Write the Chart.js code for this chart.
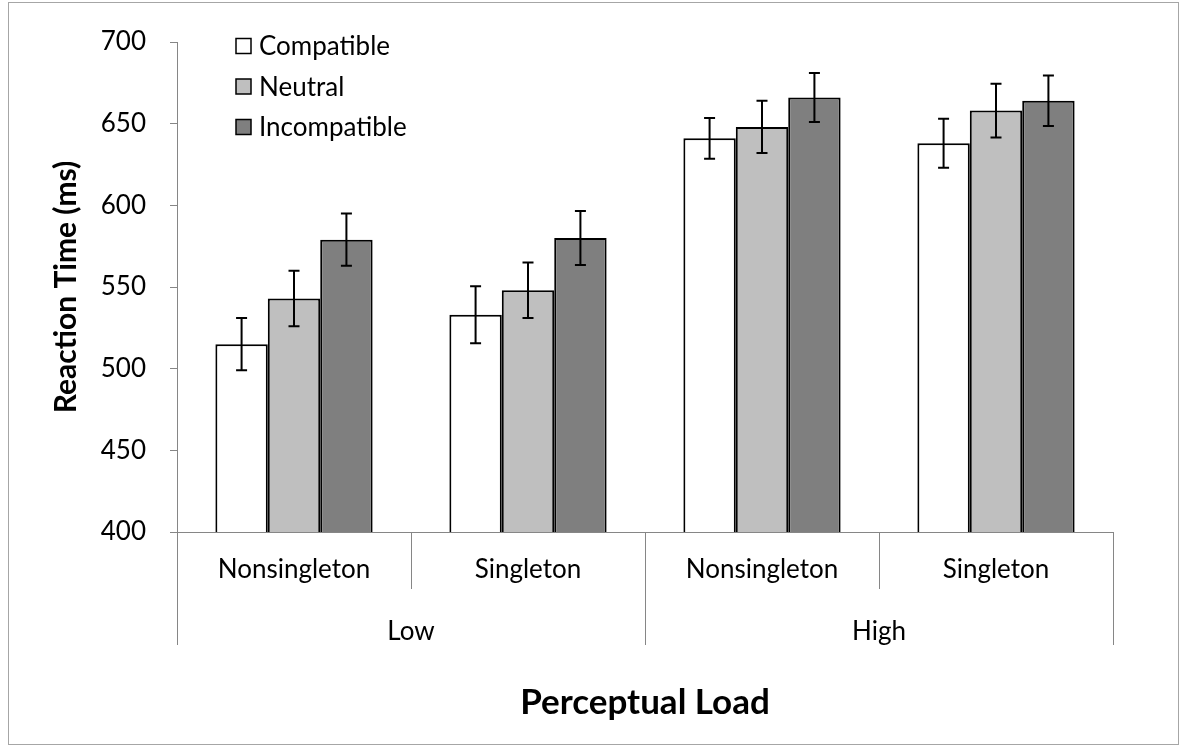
<!DOCTYPE html>
<html>
<head>
<meta charset="utf-8">
<script src="https://cdn.jsdelivr.net/npm/chart.js@4/dist/chart.umd.min.js"></script>
<style>
  body { margin: 0; background: #fff; }
  #wrap { position: relative; width: 1188px; height: 746px; }
</style>
</head>
<body>
<div id="wrap"><canvas id="grafico" width="1188" height="746"></canvas></div>
<script>
// dados do grafico
const condicoes = ["Nonsingleton", "Singleton", "Nonsingleton", "Singleton"];
const cargas = ["Low", "High"];
const compatible = [515, 533, 641, 638];
const neutral = [543, 548, 648, 658];
const incompatible = [579, 580, 666, 664];
const erroCompatible = [16, 17.5, 12.5, 15];
const erroNeutral = [17, 17, 16, 16.5];
const erroIncompatible = [16, 16.5, 15, 15.5];
const yTicks = [400, 450, 500, 550, 600, 650, 700];

const FONTE = "Lato, 'Open Sans', sans-serif";
const CINZA = "#868686";

// barras de erro
const errorBars = {
  id: "errorBars",
  afterDatasetsDraw(chart) {
    const ctx = chart.ctx;
    const y = chart.scales.y;
    chart.data.datasets.forEach((ds, i) => {
      const meta = chart.getDatasetMeta(i);
      meta.data.forEach((bar, j) => {
        const v = ds.data[j], e = ds.erros[j];
        const topo = y.getPixelForValue(v + e);
        const base = y.getPixelForValue(v - e);
        ctx.save();
        ctx.strokeStyle = "#000";
        ctx.lineWidth = 2;
        ctx.beginPath();
        ctx.moveTo(bar.x, topo); ctx.lineTo(bar.x, base);
        ctx.moveTo(bar.x - 5.5, topo); ctx.lineTo(bar.x + 5.5, topo);
        ctx.moveTo(bar.x - 5.5, base); ctx.lineTo(bar.x + 5.5, base);
        ctx.stroke();
        ctx.restore();
      });
    });
  }
};

// eixo x em dois niveis, legenda e moldura
const extras = {
  id: "extras",
  beforeDraw(chart) {
    const ctx = chart.ctx;
    ctx.save();
    ctx.strokeStyle = "#A6A6A6";
    ctx.lineWidth = 1;
    ctx.strokeRect(8.5, 2.5, 1170, 742);
    ctx.restore();
  },
  afterDraw(chart) {
    const ctx = chart.ctx;
    const x = chart.scales.x;
    const area = chart.chartArea;
    const passo = x.width / condicoes.length;
    ctx.save();
    ctx.strokeStyle = CINZA;
    ctx.lineWidth = 1;
    for (let i = 0; i <= condicoes.length; i++) {
      const px = Math.round(x.getPixelForValue(i) - passo / 2) + 0.5;
      const longa = i % 2 === 0;
      ctx.beginPath();
      ctx.moveTo(px, area.bottom);
      ctx.lineTo(px, longa ? 645 : 589);
      ctx.stroke();
    }
    ctx.fillStyle = "#000";
    ctx.font = "26px " + FONTE;
    ctx.textAlign = "center";
    ctx.textBaseline = "middle";
    cargas.forEach((c, g) => {
      const centro = (x.getPixelForValue(g * 2) + x.getPixelForValue(g * 2 + 1)) / 2;
      ctx.fillText(c, centro, 632);
    });

    // legenda
    ctx.textAlign = "left";
    chart.data.datasets.forEach((ds, i) => {
      const cy = 46 + i * 40.5;
      ctx.fillStyle = ds.backgroundColor;
      ctx.fillRect(236, cy - 7.5, 15, 15);
      ctx.strokeStyle = "#000";
      ctx.lineWidth = 1.5;
      ctx.strokeRect(236, cy - 7.5, 15, 15);
      ctx.fillStyle = "#000";
      ctx.fillText(ds.label, 259, cy + 1);
    });
    ctx.restore();
  }
};

const ctx = document.getElementById("grafico").getContext("2d");
new Chart(ctx, {
  type: "bar",
  data: {
    labels: condicoes,
    datasets: [
      { label: "Compatible", data: compatible, erros: erroCompatible, backgroundColor: "#FFFFFF" },
      { label: "Neutral", data: neutral, erros: erroNeutral, backgroundColor: "#BFBFBF" },
      { label: "Incompatible", data: incompatible, erros: erroIncompatible, backgroundColor: "#7F7F7F" }
    ].map(d => ({ ...d, borderColor: "#000", borderWidth: 2, borderSkipped: false,
                  categoryPercentage: 0.672, barPercentage: 1 }))
  },
  options: {
    responsive: false,
    animation: false,
    layout: { padding: { top: 42, right: 75, left: 0, bottom: 0 } },
    plugins: { legend: { display: false }, tooltip: { enabled: false } },
    scales: {
      x: {
        grid: { display: false, drawTicks: false },
        border: { display: true, color: CINZA, width: 1 },
        ticks: { color: "#000", font: { family: FONTE, size: 26 }, padding: 22, autoSkip: false, maxRotation: 0 },
        title: { display: true, text: "Perceptual Load", color: "#000",
                 font: { family: FONTE, size: 35, weight: "bold" }, padding: { top: 0, bottom: 22 } },
        afterFit: s => { s.height = 214; }
      },
      y: {
        min: 400, max: 700,
        afterBuildTicks: s => { s.ticks = yTicks.map(v => ({ value: v })); },
        grid: { drawOnChartArea: false, drawTicks: true, tickLength: 7, color: CINZA },
        border: { display: true, color: CINZA, width: 1 },
        ticks: { color: "#000", font: { family: FONTE, size: 26 }, padding: 24 },
        title: { display: true, text: "Reaction Time (ms)", color: "#000",
                 font: { family: FONTE, size: 30, weight: "bold" }, padding: { top: 48, bottom: 0 } },
        afterFit: s => { s.width = 177; }
      }
    }
  },
  plugins: [errorBars, extras]
});
</script>
</body>
</html>
